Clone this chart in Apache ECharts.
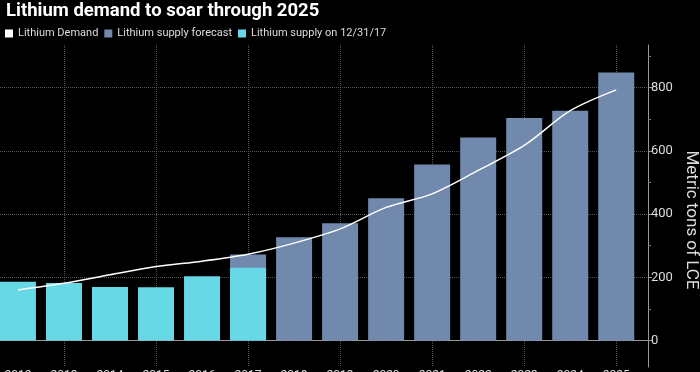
<!DOCTYPE html>
<html>
<head>
<meta charset="utf-8">
<script src="https://cdn.jsdelivr.net/npm/echarts@6/dist/echarts.min.js"></script>
<style>
html,body{margin:0;padding:0;background:#000;}
#c{width:700px;height:372px;}
</style>
</head>
<body>
<div id="c"></div>
<script>
const years = [2012, 2013, 2014, 2015, 2016, 2017, 2018, 2019, 2020, 2021, 2022, 2023, 2024, 2025];
const demand = [160, 181, 208, 234, 251, 273, 308, 353, 421, 464, 538, 617, 727, 793];
const supplyForecast = [null, null, null, null, null, 272, 327, 371, 450, 557, 642, 704, 727, 848];
const supplyActual = [186, 182, 169, 168, 203, 230, null, null, null, null, null, null, null, null];
const yTicks = [0, 200, 400, 600, 800];
const yMinorTicks = [100, 300, 500, 700, 900];
const gridYears = [2013, 2015, 2017, 2019, 2021, 2023, 2025];

const FONT = 'Roboto, "Open Sans", sans-serif';
const pair = (arr) => years.map((y, i) => [y, arr[i]]);

const chart = echarts.init(document.getElementById('c'), null, {renderer: 'canvas'});
const xMin = 2011.61, xMax = 2025.69, yMin = -84, yMax = 935;

chart.setOption({
  backgroundColor: '#000',
  animation: false,
  title: {
    text: 'Lithium demand to soar through 2025',
    left: 1, top: -3,
    textStyle: {color: '#fff', fontSize: 18.5, fontWeight: 'bold', fontFamily: FONT}
  },
  legend: {
    left: 5, top: 28, padding: 0,
    itemWidth: 8, itemHeight: 8, itemGap: 6,
    icon: 'rect',
    textStyle: {color: '#ddd', fontSize: 11, fontFamily: FONT},
    data: ['Lithium Demand', 'Lithium supply forecast', 'Lithium supply on 12/31/17']
  },
  grid: {left: 0, right: 52, top: 45, bottom: 5, containLabel: false, outerBoundsMode: 'none'},
  xAxis: [{
    type: 'value', min: xMin, max: xMax,
    axisLine: {show: true, lineStyle: {color: '#999', width: 1}},
    axisTick: {show: true, inside: true, length: 5, customValues: years, lineStyle: {color: '#444'}},
    axisLabel: {customValues: years, formatter: v => String(Math.round(v)), color: '#ddd', fontSize: 12, fontFamily: FONT, margin: 3},
    splitLine: {show: false}
  }, {
    type: 'value', min: xMin, max: xMax, position: 'bottom',
    axisLine: {show: false},
    axisTick: {show: false, customValues: gridYears},
    axisLabel: {show: false, customValues: gridYears},
    splitLine: {show: true, lineStyle: {color: '#555', type: 'dotted', width: 1}}
  }],
  yAxis: [{
    type: 'value', position: 'right', min: yMin, max: yMax,
    axisLine: {show: true, lineStyle: {color: '#999', width: 1}},
    axisTick: {show: true, length: 4, customValues: yTicks, lineStyle: {color: '#999'}},
    axisLabel: {customValues: yTicks, color: '#ddd', fontSize: 13, fontFamily: FONT, margin: 3},
    splitLine: {show: true, lineStyle: {color: '#555', type: 'dotted', width: 1}}
  }, {
    type: 'value', position: 'right', min: yMin, max: yMax,
    axisLine: {show: false},
    axisTick: {show: true, length: 3, customValues: yMinorTicks, lineStyle: {color: '#777'}},
    axisLabel: {show: false, customValues: yMinorTicks},
    splitLine: {show: false}
  }],
  graphic: [{
    type: 'text',
    x: 691, y: 220,
    rotation: -Math.PI / 2,
    style: {text: 'Metric tons of LCE', fill: '#ddd', font: '17px ' + FONT, align: 'center', verticalAlign: 'middle'}
  }],
  series: [{
    name: 'Lithium supply forecast', type: 'bar',
    xAxisIndex: 0, yAxisIndex: 0,
    data: pair(supplyForecast), barWidth: 36, barGap: '-100%',
    itemStyle: {color: '#7089ad'}, z: 2
  }, {
    name: 'Lithium supply on 12/31/17', type: 'bar',
    xAxisIndex: 0, yAxisIndex: 0,
    data: pair(supplyActual), barWidth: 36, barGap: '-100%',
    itemStyle: {color: '#66d8e6'}, z: 3
  }, {
    name: 'Lithium Demand', type: 'line',
    xAxisIndex: 0, yAxisIndex: 0,
    data: pair(demand), smooth: 0.3, showSymbol: false, symbol: 'none',
    lineStyle: {color: '#fff', width: 1.5}, itemStyle: {color: '#fff'}, z: 5
  }]
});
</script>
</body>
</html>
